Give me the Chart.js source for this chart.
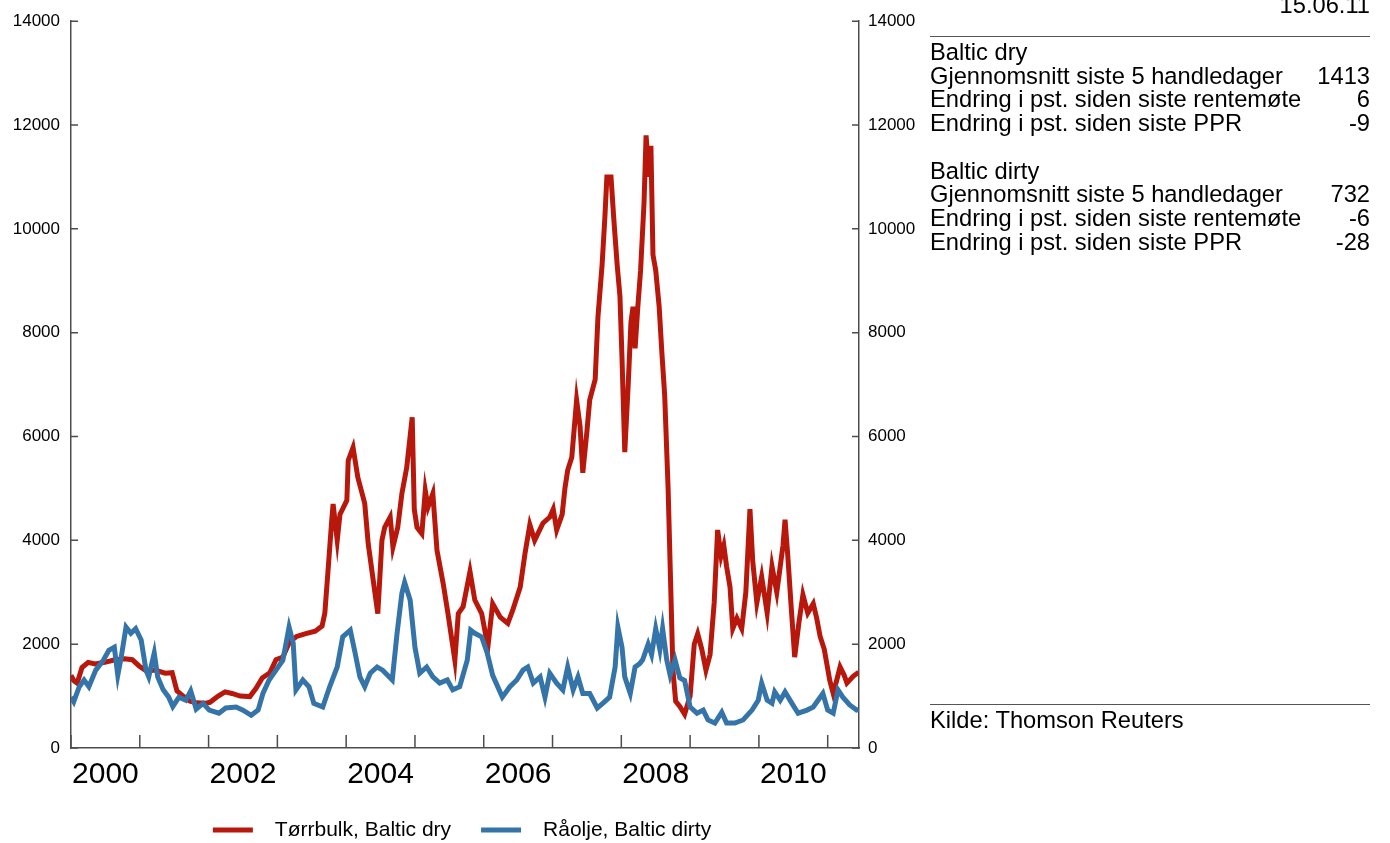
<!DOCTYPE html>
<html>
<head>
<meta charset="utf-8">
<script src="https://cdn.jsdelivr.net/npm/chart.js@4.4.1/dist/chart.umd.min.js"></script>
<style>
  body { margin: 0; background: #fff; font-family: "Liberation Sans", Arial, sans-serif; }
  #wrap { position: relative; width: 1390px; height: 843px; overflow: hidden; }
  #chart { position: absolute; left: 0; top: 0; }
  .txt { position: absolute; font-size: 23.7px; line-height: 23.7px; color: #000; white-space: nowrap; }
  .row { display: flex; justify-content: space-between; }
  .rule { position: absolute; left: 930px; width: 440px; height: 0; border-top: 1px solid #555; }
</style>
</head>
<body>
<div id="wrap">
  <canvas id="chart" width="1390" height="843"></canvas>
  <div class="txt" style="right:20px; top:-6.5px;">15.06.11</div>
  <div class="rule" style="top:36px;"></div>
  <div class="txt" style="left:930px; width:440px; top:41px;">
    <div>Baltic dry</div>
    <div class="row"><span>Gjennomsnitt siste 5 handledager</span><span>1413</span></div>
    <div class="row"><span>Endring i pst. siden siste rentemøte</span><span>6</span></div>
    <div class="row"><span>Endring i pst. siden siste PPR</span><span>-9</span></div>
    <div>&nbsp;</div>
    <div>Baltic dirty</div>
    <div class="row"><span>Gjennomsnitt siste 5 handledager</span><span>732</span></div>
    <div class="row"><span>Endring i pst. siden siste rentemøte</span><span>-6</span></div>
    <div class="row"><span>Endring i pst. siden siste PPR</span><span>-28</span></div>
  </div>
  <div class="rule" style="top:704px;"></div>
  <div class="txt" style="left:930px; top:709px;">Kilde: Thomson Reuters</div>
</div>
<script>
// årstall (desimal) og verdier for Baltic dry
const dryYears = [
  2000.00, 2000.04, 2000.09, 2000.16, 2000.25, 2000.35, 2000.49, 2000.64, 2000.78, 2000.89, 2000.99,
  2001.10, 2001.22, 2001.37, 2001.47, 2001.54, 2001.63, 2001.73, 2001.83, 2001.95,
  2002.02, 2002.14, 2002.24, 2002.34, 2002.46, 2002.60, 2002.69, 2002.78, 2002.89, 2002.98,
  2003.08, 2003.18, 2003.28, 2003.40, 2003.55, 2003.65, 2003.69, 2003.74, 2003.79, 2003.81, 2003.87, 2003.91,
  2004.01, 2004.03, 2004.10, 2004.17, 2004.27, 2004.32, 2004.38, 2004.46, 2004.52, 2004.56, 2004.64, 2004.68,
  2004.75, 2004.81, 2004.88, 2004.96, 2004.99,
  2005.03, 2005.10, 2005.15, 2005.19, 2005.26, 2005.32, 2005.41, 2005.48, 2005.58, 2005.63, 2005.70, 2005.80,
  2005.87, 2005.97,
  2006.06, 2006.13, 2006.24, 2006.35, 2006.42, 2006.53, 2006.60, 2006.67, 2006.74, 2006.86, 2006.96,
  2007.01, 2007.06, 2007.14, 2007.18, 2007.22, 2007.28, 2007.35, 2007.40, 2007.44, 2007.50, 2007.54, 2007.62,
  2007.66, 2007.72, 2007.76, 2007.79, 2007.85, 2007.89, 2007.94, 2007.98,
  2008.01, 2008.05, 2008.10, 2008.14, 2008.17, 2008.20, 2008.24, 2008.28, 2008.33, 2008.36, 2008.40, 2008.43,
  2008.46, 2008.50, 2008.55, 2008.59, 2008.63, 2008.68, 2008.71, 2008.75, 2008.79, 2008.85, 2008.92,
  2009.00, 2009.06, 2009.11, 2009.17, 2009.23, 2009.29, 2009.35, 2009.40, 2009.45, 2009.49, 2009.53, 2009.58,
  2009.62, 2009.68, 2009.75, 2009.81, 2009.87, 2009.91, 2009.97,
  2010.04, 2010.12, 2010.19, 2010.26, 2010.31, 2010.35, 2010.38, 2010.42, 2010.47, 2010.52, 2010.58, 2010.64,
  2010.71, 2010.79, 2010.84, 2010.89, 2010.95, 2010.99,
  2011.03, 2011.08, 2011.13, 2011.18, 2011.24, 2011.28, 2011.37, 2011.45
];
const dryValues = [
  1400, 1300, 1250, 1550, 1650, 1620, 1650, 1700, 1720, 1700, 1580,
  1480, 1500, 1440, 1450, 1100, 1000, 900, 870, 860,
  880, 1000, 1080, 1050, 1000, 990, 1150, 1350, 1450, 1700,
  1750, 2050, 2150, 2200, 2250, 2350, 2600, 3480, 4380, 4700, 4000, 4500,
  4770, 5540, 5790, 5210, 4710, 3940, 3360, 2590, 4000, 4250, 4450, 3870,
  4250, 4900, 5400, 6370, 4600,
  4250, 4130, 4960, 4640, 4900, 3810, 3170, 2590, 1690, 2590, 2720, 3400,
  2850, 2590,
  1950, 2780, 2520, 2400, 2650, 3100, 3750, 4300, 4000, 4330, 4450,
  4600, 4200, 4500, 5000, 5350, 5600, 6700, 6200, 5300, 6100, 6700, 7100,
  8300, 9300, 10200, 11000, 11000, 10200, 9300, 8700,
  7500, 5700, 7000, 8200, 8500, 7700, 8500, 9200, 10500, 11800, 11000, 11600,
  9500, 9200, 8500, 7600, 6800, 5000, 3500, 1500, 900, 800, 650,
  1000, 2000, 2200, 1900, 1500, 1800, 2800, 4200, 3700, 3900, 3500, 3100,
  2300, 2500, 2300, 3000, 4600, 3600, 2800,
  3300, 2600, 3500, 3000, 3500, 3900, 4400, 3700, 2700, 1750, 2400, 2950,
  2600, 2780, 2500, 2150, 1900, 1600,
  1300, 1050, 1300, 1560, 1400, 1250, 1380, 1460
];

// årstall og verdier for Baltic dirty
const dirtyYears = [
  2000.00, 2000.04, 2000.12, 2000.19, 2000.26, 2000.36, 2000.47, 2000.55, 2000.63, 2000.68, 2000.73, 2000.80,
  2000.87, 2000.94,
  2001.02, 2001.09, 2001.13, 2001.21, 2001.26, 2001.34, 2001.42, 2001.48, 2001.57, 2001.67, 2001.74, 2001.82,
  2001.92,
  2002.01, 2002.15, 2002.25, 2002.40, 2002.50, 2002.62, 2002.72, 2002.79, 2002.88, 2002.98,
  2003.08, 2003.17, 2003.23, 2003.27, 2003.37, 2003.46, 2003.53, 2003.66, 2003.76, 2003.87, 2003.95,
  2004.06, 2004.13, 2004.20, 2004.27, 2004.35, 2004.45, 2004.53, 2004.67, 2004.74, 2004.81, 2004.85, 2004.93,
  2005.00, 2005.07, 2005.17, 2005.26, 2005.36, 2005.47, 2005.55, 2005.65, 2005.76, 2005.81, 2005.87, 2005.97,
  2006.05, 2006.13, 2006.27, 2006.38, 2006.48, 2006.57, 2006.64, 2006.72, 2006.82, 2006.89, 2006.96,
  2007.06, 2007.15, 2007.22, 2007.30, 2007.37, 2007.44, 2007.54, 2007.65, 2007.73, 2007.83, 2007.91, 2007.95,
  2008.01, 2008.05, 2008.13, 2008.20, 2008.27, 2008.31, 2008.39, 2008.44, 2008.50, 2008.56, 2008.60, 2008.66,
  2008.71, 2008.78, 2008.85, 2008.92,
  2009.00, 2009.10, 2009.19, 2009.26, 2009.36, 2009.46, 2009.53, 2009.65, 2009.77, 2009.90, 2009.99,
  2010.04, 2010.12, 2010.19, 2010.23, 2010.31, 2010.38, 2010.48, 2010.57, 2010.70, 2010.79, 2010.93,
  2011.00, 2011.08, 2011.15, 2011.22, 2011.32, 2011.42, 2011.45
];
const dirtyValues = [
  980, 890, 1180, 1310, 1180, 1500, 1690, 1880, 1940, 1400, 1750, 2330,
  2210, 2300,
  2080, 1500, 1370, 1830, 1370, 1120, 980, 800, 980, 920, 1100, 750,
  860,
  730, 670, 770, 790, 730, 630, 730, 1050, 1310, 1500,
  1690, 2330, 2020, 1120, 1310, 1180, 860, 790, 1180, 1560, 2140,
  2270, 1830, 1370, 1180, 1440, 1560, 1500, 1310, 2210, 2980, 3190, 2850,
  1940, 1440, 1560, 1370, 1250, 1310, 1120, 1180, 1690, 2270, 2210, 2140,
  1830, 1400, 980, 1180, 1310, 1500, 1560, 1250, 1370, 980, 1440,
  1250, 1120, 1560, 1120, 1370, 1050, 1050, 770, 860, 980, 1560, 2330,
  1940, 1370, 1050, 1560, 1630, 1700, 2000, 1800, 2300, 1900, 2300, 1700,
  1400, 1700, 1350, 1300,
  790, 670, 730, 540, 480, 690, 480, 480, 540, 730, 920,
  1250, 920, 860, 1080, 920, 1080, 860, 670, 730, 790, 1050,
  730, 670, 1120, 980, 830, 730, 740
];

// akser
const xTickYears = [2000, 2001, 2002, 2003, 2004, 2005, 2006, 2007, 2008, 2009, 2010, 2011];
const xLabelYears = [2000, 2002, 2004, 2006, 2008, 2010];
const yTickValues = [0, 2000, 4000, 6000, 8000, 10000, 12000, 14000];
const xEnd = 2011.455; // 15.06.11

const RED = "#b8170b";
const BLUE = "#3574a8";
const AXIS = "#4d4d4d";
const FONT = '"Liberation Sans", Arial, sans-serif';

Chart.defaults.font.family = FONT;
Chart.defaults.color = "#000";

// små tickmerker som peker inn i plottet
const innerTicks = {
  id: "innerTicks",
  afterDatasetsDraw(chart) {
    const { ctx, chartArea: a, scales } = chart;
    ctx.save();
    ctx.strokeStyle = AXIS;
    ctx.lineWidth = 1.5;
    ctx.beginPath();
    xTickYears.forEach(v => {
      const px = scales.x.getPixelForValue(v);
      ctx.moveTo(px, a.bottom);
      ctx.lineTo(px, a.bottom - 13);
    });
    yTickValues.forEach(v => {
      const py = scales.y.getPixelForValue(v);
      ctx.moveTo(a.left, py);
      ctx.lineTo(a.left + 7, py);
      const py2 = scales.y2.getPixelForValue(v);
      ctx.moveTo(a.right, py2);
      ctx.lineTo(a.right - 7, py2);
    });
    ctx.stroke();
    ctx.restore();
  }
};

// legende under plottet
const lineLegend = {
  id: "lineLegend",
  afterDraw(chart) {
    const { ctx, chartArea: a } = chart;
    ctx.save();
    ctx.font = "21px " + FONT;
    ctx.textBaseline = "middle";
    const box = 40, gap = 22, sep = 30, y = 830;
    const items = chart.data.datasets.map(ds => ({
      label: ds.label, color: ds.borderColor, w: ctx.measureText(ds.label).width
    }));
    const total = items.reduce((s, it) => s + box + gap + it.w, 0) + sep * (items.length - 1);
    let x = (a.left + a.right) / 2 - total / 2 - 3;
    items.forEach(it => {
      ctx.fillStyle = it.color;
      ctx.fillRect(x, y - 2.5, box, 5);
      ctx.fillStyle = "#000";
      ctx.fillText(it.label, x + box + gap, y);
      x += box + gap + it.w + sep;
    });
    ctx.restore();
  }
};

const yAxis = (position, padding, width) => ({
  type: "linear",
  position: position,
  min: 0,
  max: 14000,
  grid: { display: false, drawTicks: false },
  border: { display: true, color: AXIS, width: 1.5 },
  ticks: { stepSize: 2000, padding: padding, font: { size: 17 }, callback: v => String(v) },
  afterFit: s => { s.width = width; }
});

new Chart(document.getElementById("chart"), {
  type: "line",
  data: {
    datasets: [
      {
        label: "Tørrbulk, Baltic dry",
        data: dryYears.map((t, i) => ({ x: t, y: dryValues[i] })),
        borderColor: RED,
        backgroundColor: RED,
        borderWidth: 5,
        pointRadius: 0,
        tension: 0,
        order: 2
      },
      {
        label: "Råolje, Baltic dirty",
        data: dirtyYears.map((t, i) => ({ x: t, y: dirtyValues[i] })),
        borderColor: BLUE,
        backgroundColor: BLUE,
        borderWidth: 5,
        pointRadius: 0,
        tension: 0,
        order: 1
      }
    ]
  },
  options: {
    responsive: false,
    animation: false,
    layout: { padding: { top: 20, bottom: 45, left: 0, right: 0 } },
    plugins: { legend: { display: false }, tooltip: { enabled: false } },
    scales: {
      x: {
        type: "linear",
        min: 2000,
        max: xEnd,
        grid: { display: false, drawTicks: false },
        border: { display: true, color: AXIS, width: 1.5 },
        afterBuildTicks: s => { s.ticks = xLabelYears.map(v => ({ value: v + 0.5 })); },
        ticks: {
          autoSkip: false,
          maxRotation: 0,
          minRotation: 0,
          padding: 9,
          font: { size: 30 },
          callback: v => String(Math.floor(v))
        },
        afterFit: s => { s.height = 50; }
      },
      y: yAxis("left", 11, 71),
      y2: yAxis("right", 9, 531)
    }
  },
  plugins: [innerTicks, lineLegend]
});
</script>
</body>
</html>
